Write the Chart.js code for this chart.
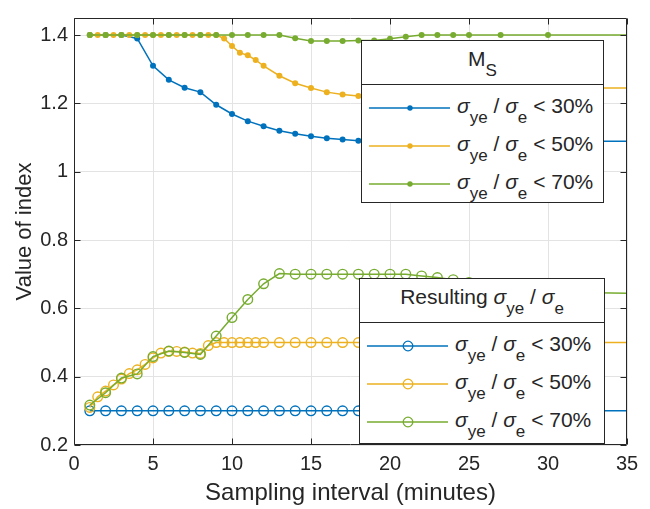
<!DOCTYPE html>
<html>
<head>
<meta charset="utf-8">
<script src="https://cdn.jsdelivr.net/npm/chart.js@4.4.1/dist/chart.umd.min.js"></script>
<style>
  html, body { margin: 0; padding: 0; background: #fff; }
  #wrap { position: relative; width: 650px; height: 509px; }
  .legend {
    position: absolute; background: #fff; border: 1px solid #262626; box-sizing: border-box;
    font: 21px "Liberation Sans", Arial, sans-serif; color: #262626;
  }
  .legend .title { height: 44px; border-bottom: 1px solid #262626; box-sizing: border-box; text-align: center; line-height: 36px; white-space: nowrap; }
  .legend .body { padding-top: 4px; }
  .legend .row { position: relative; height: 38px; }
  .legend svg { position: absolute; left: 7px; top: 0; }
  .legend .lbl { position: absolute; left: 95px; top: 0; line-height: 34px; white-space: nowrap; }
  .legend sub { font-size: 17px; vertical-align: -10px; line-height: 1; }
  .legend i { font-style: italic; }
</style>
</head>
<body>
<div id="wrap">
  <canvas id="chart" width="650" height="509"></canvas>
  <div class="legend" id="leg-ms" style="left:361px; top:40px; width:243px; height:163px;"></div>
  <div class="legend" id="leg-rs" style="left:359px; top:278px; width:246px; height:166px;"></div>
</div>
<script>
  const BLUE = '#0072bd';
  const ORANGE = '#edb120';
  const GREEN = '#77ac30';

  // sampling intervals (minutes); the 50% runs were sampled every half minute up to 12
  const intervals = [1, 2, 3, 4, 5, 6, 7, 8, 9, 10, 11, 12, 13, 14, 15, 16, 17, 18, 19, 20, 21, 22, 23, 24, 25, 27, 30, 40];
  const halfIntervals = [1, 1.5, 2, 2.5, 3, 3.5, 4, 4.5, 5, 5.5, 6, 6.5, 7, 7.5, 8, 8.5, 9, 9.5, 10, 10.5, 11, 11.5, 12,
    13, 14, 15, 16, 17, 18, 19, 20, 21, 22, 23, 24, 25, 27, 30, 40];

  // M_S
  const msBlue = [1.4, 1.4, 1.4, 1.39, 1.31, 1.269, 1.246, 1.233, 1.196, 1.169, 1.148, 1.133, 1.12, 1.111, 1.104, 1.098,
    1.094, 1.091, 1.09, 1.09, 1.089, 1.089, 1.089, 1.089, 1.089, 1.089, 1.089, 1.089];
  const msOrange = [1.4, 1.4, 1.4, 1.4, 1.4, 1.4, 1.4, 1.4, 1.4, 1.4, 1.4, 1.4, 1.4, 1.4, 1.4, 1.4, 1.4, 1.39, 1.368,
    1.348, 1.341, 1.327, 1.31, 1.281, 1.259, 1.245, 1.233, 1.226, 1.222, 1.221, 1.223, 1.23, 1.238, 1.244, 1.245, 1.245,
    1.245, 1.245, 1.245];
  const msGreen = [1.4, 1.4, 1.4, 1.4, 1.4, 1.4, 1.4, 1.4, 1.4, 1.4, 1.4, 1.4, 1.4, 1.391, 1.383, 1.383, 1.383, 1.384,
    1.384, 1.389, 1.395, 1.4, 1.4, 1.4, 1.4, 1.4, 1.4, 1.4];

  // resulting sigma_ye / sigma_e
  const rsBlue = [0.3, 0.3, 0.3, 0.3, 0.3, 0.3, 0.3, 0.3, 0.3, 0.3, 0.3, 0.3, 0.3, 0.3, 0.3, 0.3, 0.3, 0.3, 0.3, 0.3,
    0.3, 0.3, 0.3, 0.3, 0.3, 0.3, 0.3, 0.3];
  const rsOrange = [0.31, 0.341, 0.358, 0.376, 0.393, 0.409, 0.42, 0.436, 0.455, 0.469, 0.474, 0.474, 0.472, 0.469,
    0.468, 0.491, 0.5, 0.5, 0.5, 0.5, 0.5, 0.5, 0.5, 0.5, 0.5, 0.5, 0.5, 0.5, 0.5, 0.5, 0.5, 0.5, 0.5, 0.5, 0.5, 0.5,
    0.5, 0.5, 0.5];
  const rsGreen = [0.317, 0.353, 0.396, 0.408, 0.459, 0.475, 0.471, 0.465, 0.519, 0.573, 0.626, 0.672, 0.702, 0.7, 0.7,
    0.7, 0.7, 0.7, 0.7, 0.7, 0.7, 0.695, 0.69, 0.684, 0.676, 0.662, 0.648, 0.64];

  const limits = ['< 30%', '< 50%', '< 70%'];
  const colors = [BLUE, ORANGE, GREEN];

  function pts(xs, ys) {
    return xs.map(function (x, i) { return { x: x, y: ys[i] }; });
  }

  function dotSet(xs, ys, color, order) {
    return { data: pts(xs, ys), borderColor: color, backgroundColor: color, borderWidth: 1.5,
      pointRadius: 3, pointBorderWidth: 0, pointBackgroundColor: color, pointHoverRadius: 3, order: order };
  }

  function ringSet(xs, ys, color, order) {
    return { data: pts(xs, ys), borderColor: color, backgroundColor: 'transparent', borderWidth: 1.5,
      pointRadius: 4.8, pointBorderWidth: 1.4, pointBackgroundColor: 'transparent', pointBorderColor: color, order: order };
  }

  // MATLAB-like box with inward ticks on every side
  const framePlugin = {
    id: 'frame',
    afterDatasetsDraw: function (chart) {
      const a = chart.chartArea;
      const ctx = chart.ctx;
      const xs = chart.scales.x;
      const ys = chart.scales.y;
      const L = Math.round(a.left) + 0.5, R = Math.round(a.right) - 0.5;
      const T = Math.round(a.top) + 0.5, B = Math.round(a.bottom) - 0.5;
      ctx.save();
      ctx.strokeStyle = '#262626';
      ctx.lineWidth = 1;
      ctx.beginPath();
      ctx.rect(L, T, R - L, B - T);
      xs.ticks.forEach(function (t) {
        const px = Math.round(xs.getPixelForValue(t.value)) + 0.5;
        ctx.moveTo(px, B); ctx.lineTo(px, B - 6);
        ctx.moveTo(px, T); ctx.lineTo(px, T + 6);
      });
      ys.ticks.forEach(function (t) {
        const py = Math.round(ys.getPixelForValue(t.value)) + 0.5;
        ctx.moveTo(L, py); ctx.lineTo(L + 6, py);
        ctx.moveTo(R, py); ctx.lineTo(R - 6, py);
      });
      ctx.stroke();
      ctx.restore();
    }
  };

  Chart.defaults.font.family = '"Liberation Sans", Arial, sans-serif';
  Chart.defaults.color = '#262626';

  const chart = new Chart(document.getElementById('chart').getContext('2d'), {
    type: 'line',
    data: {
      datasets: [
        dotSet(intervals, msBlue, BLUE, 6),
        dotSet(halfIntervals, msOrange, ORANGE, 5),
        dotSet(intervals, msGreen, GREEN, 4),
        ringSet(intervals, rsBlue, BLUE, 3),
        ringSet(halfIntervals, rsOrange, ORANGE, 2),
        ringSet(intervals, rsGreen, GREEN, 1)
      ]
    },
    options: {
      responsive: false,
      animation: false,
      layout: { padding: { left: 0, right: 23, top: 8, bottom: 0 } },
      plugins: { legend: { display: false }, tooltip: { enabled: false } },
      scales: {
        x: {
          type: 'linear', min: 0, max: 35,
          ticks: { stepSize: 5, padding: 7, font: { size: 20 }, maxRotation: 0 },
          grid: { color: '#e3e3e3', drawTicks: false },
          border: { display: false },
          title: { display: true, text: 'Sampling interval (minutes)', font: { size: 24 }, padding: { top: 0, bottom: 1 } },
          afterFit: function (s) { s.height = 64; }
        },
        y: {
          min: 0.2, max: 1.45,
          ticks: { stepSize: 0.2, includeBounds: false, padding: 6, font: { size: 20 },
            callback: function (v) { return String(+v.toFixed(1)); } },
          grid: { color: '#e3e3e3', drawTicks: false },
          border: { display: false },
          title: { display: true, text: 'Value of index', font: { size: 22 }, padding: { top: 12, bottom: 0 } },
          afterFit: function (s) { s.width = 74; }
        }
      }
    },
    plugins: [framePlugin]
  });

  function sample(color, ring) {
    const mark = ring
      ? '<circle cx="41" cy="19" r="4.8" fill="none" stroke="' + color + '" stroke-width="1.3"/>'
      : '<circle cx="41" cy="19" r="2.7" fill="' + color + '"/>';
    return '<svg width="82" height="38"><line x1="0" y1="19" x2="81" y2="19" stroke="' + color + '" stroke-width="1.5"/>' + mark + '</svg>';
  }

  function buildLegend(el, titleHtml, ring) {
    let html = '<div class="title">' + titleHtml + '</div><div class="body">';
    limits.forEach(function (lim, i) {
      html += '<div class="row">' + sample(colors[i], ring) +
        '<span class="lbl"><i>σ</i><sub>ye</sub> / <i>σ</i><sub>e</sub> ' + lim.replace('<', '&lt;') + '</span></div>';
    });
    el.innerHTML = html + '</div>';
  }

  buildLegend(document.getElementById('leg-ms'), 'M<sub>S</sub>', false);
  buildLegend(document.getElementById('leg-rs'), 'Resulting <i>σ</i><sub>ye</sub> / <i>σ</i><sub>e</sub>', true);
</script>
</body>
</html>
